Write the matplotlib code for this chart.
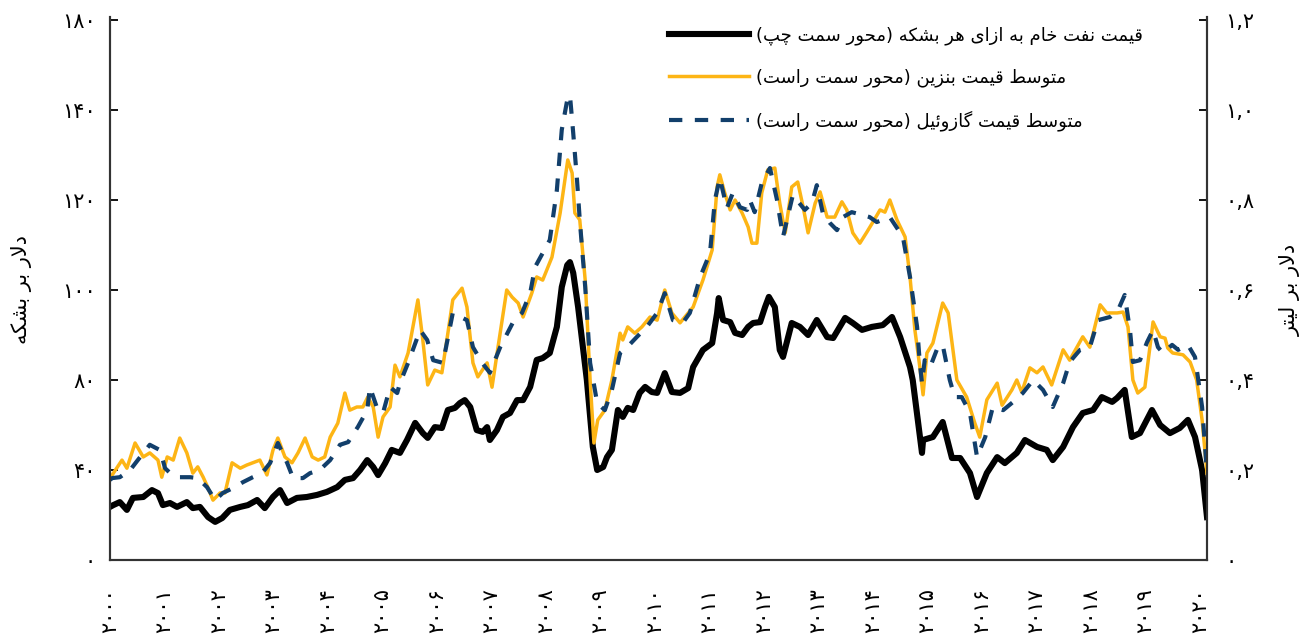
import numpy as np
import matplotlib
matplotlib.use("Agg")
import matplotlib.pyplot as plt

plt.rcParams['font.family'] = ['DejaVu Sans']

# crude arabic/persian shaping (matplotlib does no joining or bidi)
FORMS = {
    '\u0627': (0xFE8D, 0xFE8E),                  # alef
    '\u062F': (0xFEA9, 0xFEAA),                  # dal
    '\u0630': (0xFEAB, 0xFEAC),
    '\u0631': (0xFEAD, 0xFEAE),                  # reh
    '\u0632': (0xFEAF, 0xFEB0),                  # zain
    '\u0698': (0xFB8A, 0xFB8B),
    '\u0648': (0xFEED, 0xFEEE),                  # waw
    '\u0628': (0xFE8F, 0xFE90, 0xFE91, 0xFE92),  # beh
    '\u067E': (0xFB56, 0xFB57, 0xFB58, 0xFB59),  # peh
    '\u062A': (0xFE95, 0xFE96, 0xFE97, 0xFE98),  # teh
    '\u062C': (0xFE9D, 0xFE9E, 0xFE9F, 0xFEA0),
    '\u0686': (0xFB7A, 0xFB7B, 0xFB7C, 0xFB7D),  # tcheh
    '\u062D': (0xFEA1, 0xFEA2, 0xFEA3, 0xFEA4),  # hah
    '\u062E': (0xFEA5, 0xFEA6, 0xFEA7, 0xFEA8),  # khah
    '\u0633': (0xFEB1, 0xFEB2, 0xFEB3, 0xFEB4),  # seen
    '\u0634': (0xFEB5, 0xFEB6, 0xFEB7, 0xFEB8),  # sheen
    '\u0637': (0xFEC1, 0xFEC2, 0xFEC3, 0xFEC4),  # tah
    '\u0641': (0xFED1, 0xFED2, 0xFED3, 0xFED4),  # feh
    '\u0642': (0xFED5, 0xFED6, 0xFED7, 0xFED8),  # qaf
    '\u06A9': (0xFB8E, 0xFB8F, 0xFB90, 0xFB91),  # keheh
    '\u06AF': (0xFB92, 0xFB93, 0xFB94, 0xFB95),  # gaf
    '\u0644': (0xFEDD, 0xFEDE, 0xFEDF, 0xFEE0),  # lam
    '\u0645': (0xFEE1, 0xFEE2, 0xFEE3, 0xFEE4),  # meem
    '\u0646': (0xFEE5, 0xFEE6, 0xFEE7, 0xFEE8),  # noon
    '\u0647': (0xFEE9, 0xFEEA, 0xFEEB, 0xFEEC),  # heh
    '\u06CC': (0xFBFC, 0xFBFD, 0xFBFE, 0xFBFF),  # farsi yeh
    '\u0626': (0xFE89, 0xFE8A, 0xFE8B, 0xFE8C),  # yeh hamza
}


def fa(text):
    out = []
    n = len(text)
    i = 0
    while i < n:
        c = text[i]
        if c not in FORMS:
            out.append(c)
            i += 1
            continue
        prev = text[i - 1] if i > 0 else None
        prev_j = prev in FORMS and len(FORMS[prev]) == 4
        if c == '\u0644' and i + 1 < n and text[i + 1] == '\u0627':
            out.append(chr(0xFEFC if prev_j else 0xFEFB))
            i += 2
            continue
        f = FORMS[c]
        nxt = text[i + 1] if i + 1 < n else None
        next_j = len(f) == 4 and nxt in FORMS
        if prev_j and next_j:
            g = f[3]
        elif prev_j:
            g = f[1]
        elif next_j:
            g = f[2]
        else:
            g = f[0]
        out.append(chr(g))
        i += 1
    s = ''.join(out)[::-1]
    return s.translate(str.maketrans('()', ')('))


FA_DIGITS = str.maketrans('0123456789', '۰۱۲۳۴۵۶۷۸۹')

# crude oil, dollars per barrel (left axis)
oil_year = [2000.0, 2000.06, 2000.18, 2000.31, 2000.42, 2000.61, 2000.77, 2000.88, 2000.97,
            2001.10, 2001.23, 2001.41, 2001.52, 2001.65, 2001.80, 2001.93, 2002.06, 2002.20,
            2002.39, 2002.53, 2002.70, 2002.84, 2002.99, 2003.12, 2003.25, 2003.43, 2003.61,
            2003.80, 2003.98, 2004.17, 2004.31, 2004.46, 2004.59, 2004.72, 2004.83, 2004.92,
            2005.05, 2005.17, 2005.32, 2005.45, 2005.60, 2005.74, 2005.83, 2005.96, 2006.09,
            2006.20, 2006.33, 2006.42, 2006.51, 2006.61, 2006.73, 2006.84, 2006.92, 2006.97,
            2007.10, 2007.21, 2007.34, 2007.47, 2007.58, 2007.71, 2007.83, 2007.94, 2008.07,
            2008.20, 2008.29, 2008.39, 2008.44, 2008.50, 2008.59, 2008.75, 2008.86, 2008.94,
            2009.05, 2009.12, 2009.21, 2009.32, 2009.41, 2009.50, 2009.60, 2009.72, 2009.82,
            2009.94, 2010.04, 2010.18, 2010.31, 2010.46, 2010.61, 2010.70, 2010.88, 2011.05,
            2011.14, 2011.17, 2011.25, 2011.38, 2011.47, 2011.60, 2011.71, 2011.80, 2011.93,
            2012.02, 2012.09, 2012.20, 2012.29, 2012.35, 2012.51, 2012.66, 2012.81, 2012.97,
            2013.16, 2013.27, 2013.49, 2013.63, 2013.80, 2013.98, 2014.18, 2014.35, 2014.50,
            2014.68, 2014.73, 2014.90, 2014.92, 2015.10, 2015.28, 2015.45, 2015.60, 2015.78,
            2015.91, 2016.09, 2016.28, 2016.42, 2016.64, 2016.79, 2017.01, 2017.19, 2017.30,
            2017.49, 2017.67, 2017.85, 2018.04, 2018.20, 2018.39, 2018.48, 2018.62, 2018.75,
            2018.90, 2019.12, 2019.27, 2019.45, 2019.63, 2019.78, 2019.91, 2020.04, 2020.13]
oil_usd = [17.7, 18.3, 19.3, 16.7, 20.7, 21.0, 23.3, 22.3, 18.3,
           19.0, 17.7, 19.3, 17.3, 17.7, 14.3, 12.7, 14.0, 16.7,
           17.7, 18.3, 20.0, 17.3, 21.0, 23.3, 19.0, 20.7, 21.0,
           21.7, 22.7, 24.3, 26.7, 27.3, 30.0, 33.3, 31.0, 28.3,
           32.3, 36.7, 35.7, 40.0, 45.7, 42.3, 40.7, 44.3, 44.0,
           50.0, 50.7, 52.3, 53.3, 51.0, 43.3, 42.7, 44.3, 40.0,
           43.3, 47.7, 49.0, 53.3, 53.3, 57.7, 66.7, 67.3, 69.0,
           77.7, 91.0, 98.3, 99.3, 95.7, 84.3, 60.0, 37.7, 30.0,
           31.0, 34.3, 36.7, 50.0, 47.7, 50.7, 50.0, 55.7, 57.7,
           56.0, 55.7, 62.3, 56.0, 55.7, 57.3, 64.3, 70.0, 72.3,
           82.3, 87.3, 80.0, 79.3, 75.7, 75.0, 77.7, 79.0, 79.3,
           84.3, 87.7, 84.3, 70.0, 67.7, 79.0, 77.7, 75.0, 80.0,
           74.3, 74.0, 80.7, 79.0, 76.7, 77.7, 78.3, 81.0, 74.3,
           64.3, 60.0, 35.7, 40.0, 41.0, 46.0, 34.0, 34.0, 29.0,
           21.0, 29.0, 34.3, 32.3, 35.7, 40.0, 37.7, 36.7, 33.3,
           37.7, 44.3, 49.0, 50.0, 54.3, 52.7, 54.0, 56.7, 41.0,
           42.3, 50.0, 45.0, 42.3, 44.0, 46.7, 41.0, 30.0, 14.3]

# average gasoline price, dollars per litre (right axis)
gas_year = [2000.0, 2000.04, 2000.22, 2000.31, 2000.46, 2000.61, 2000.73, 2000.88, 2000.95,
            2001.05, 2001.16, 2001.28, 2001.41, 2001.52, 2001.61, 2001.71, 2001.80, 2001.89,
            2002.02, 2002.11, 2002.24, 2002.39, 2002.51, 2002.62, 2002.75, 2002.88, 2002.99,
            2003.08, 2003.21, 2003.34, 2003.45, 2003.58, 2003.71, 2003.82, 2003.94, 2004.04,
            2004.18, 2004.31, 2004.40, 2004.53, 2004.64, 2004.73, 2004.83, 2004.92, 2005.01,
            2005.14, 2005.23, 2005.32, 2005.47, 2005.65, 2005.74, 2005.83, 2005.96, 2006.09,
            2006.20, 2006.29, 2006.46, 2006.55, 2006.66, 2006.75, 2006.92, 2007.01, 2007.12,
            2007.28, 2007.38, 2007.49, 2007.58, 2007.74, 2007.83, 2007.94, 2008.11, 2008.26,
            2008.40, 2008.48, 2008.53, 2008.62, 2008.72, 2008.81, 2008.88, 2008.95, 2009.08,
            2009.21, 2009.36, 2009.41, 2009.50, 2009.63, 2009.76, 2009.91, 2010.04, 2010.18,
            2010.31, 2010.46, 2010.61, 2010.70, 2010.88, 2011.05, 2011.14, 2011.19, 2011.28,
            2011.38, 2011.47, 2011.60, 2011.71, 2011.78, 2011.87, 2011.96, 2012.07, 2012.20,
            2012.29, 2012.39, 2012.51, 2012.62, 2012.72, 2012.81, 2012.94, 2013.03, 2013.16,
            2013.30, 2013.43, 2013.52, 2013.63, 2013.76, 2013.89, 2014.00, 2014.13, 2014.22,
            2014.31, 2014.44, 2014.59, 2014.68, 2014.77, 2014.86, 2014.92, 2014.99, 2015.10,
            2015.28, 2015.38, 2015.54, 2015.72, 2015.87, 2015.96, 2016.09, 2016.28, 2016.37,
            2016.55, 2016.64, 2016.73, 2016.88, 2017.01, 2017.12, 2017.28, 2017.49, 2017.61,
            2017.85, 2017.98, 2018.17, 2018.29, 2018.48, 2018.59, 2018.68, 2018.77, 2018.86,
            2018.99, 2019.14, 2019.27, 2019.36, 2019.41, 2019.50, 2019.69, 2019.82, 2019.94,
            2020.04, 2020.13]
gas_usd = [0.182, 0.189, 0.222, 0.204, 0.260, 0.229, 0.238, 0.222, 0.184,
           0.229, 0.222, 0.271, 0.238, 0.193, 0.207, 0.184, 0.160, 0.133,
           0.149, 0.149, 0.216, 0.204, 0.211, 0.216, 0.222, 0.189, 0.244,
           0.271, 0.229, 0.216, 0.238, 0.271, 0.229, 0.222, 0.229, 0.273,
           0.304, 0.371, 0.333, 0.340, 0.340, 0.362, 0.340, 0.273, 0.318,
           0.340, 0.433, 0.407, 0.460, 0.578, 0.489, 0.389, 0.422, 0.416,
           0.504, 0.578, 0.604, 0.562, 0.438, 0.407, 0.438, 0.384, 0.473,
           0.600, 0.584, 0.571, 0.540, 0.593, 0.629, 0.622, 0.673, 0.771,
           0.889, 0.860, 0.771, 0.756, 0.622, 0.400, 0.260, 0.311, 0.333,
           0.400, 0.504, 0.489, 0.518, 0.504, 0.518, 0.540, 0.533, 0.600,
           0.549, 0.527, 0.549, 0.562, 0.622, 0.689, 0.829, 0.856, 0.816,
           0.778, 0.800, 0.771, 0.740, 0.704, 0.704, 0.816, 0.867, 0.871,
           0.793, 0.727, 0.829, 0.840, 0.784, 0.727, 0.793, 0.818, 0.762,
           0.762, 0.796, 0.778, 0.727, 0.704, 0.729, 0.751, 0.778, 0.773,
           0.800, 0.756, 0.718, 0.629, 0.511, 0.429, 0.367, 0.460, 0.482,
           0.571, 0.549, 0.400, 0.362, 0.304, 0.273, 0.356, 0.393, 0.344,
           0.378, 0.400, 0.373, 0.427, 0.416, 0.429, 0.389, 0.467, 0.444,
           0.496, 0.473, 0.567, 0.549, 0.549, 0.551, 0.518, 0.400, 0.371,
           0.384, 0.529, 0.496, 0.493, 0.471, 0.460, 0.456, 0.440, 0.400,
           0.311, 0.193]

# average diesel price, dollars per litre (right axis)
diesel_year = [2000.0, 2000.04, 2000.18, 2000.37, 2000.51, 2000.73, 2000.92, 2001.01, 2001.14,
               2001.28, 2001.47, 2001.61, 2001.78, 2001.93, 2002.07, 2002.26, 2002.44, 2002.62,
               2002.79, 2002.94, 2003.08, 2003.25, 2003.36, 2003.54, 2003.67, 2003.85, 2004.04,
               2004.22, 2004.37, 2004.55, 2004.72, 2004.77, 2004.90, 2005.01, 2005.14, 2005.27,
               2005.32, 2005.47, 2005.69, 2005.82, 2005.93, 2006.11, 2006.29, 2006.55, 2006.66,
               2006.83, 2006.97, 2007.16, 2007.39, 2007.56, 2007.71, 2007.80, 2007.94, 2008.07,
               2008.20, 2008.29, 2008.39, 2008.44, 2008.50, 2008.57, 2008.62, 2008.72, 2008.81,
               2008.94, 2009.08, 2009.21, 2009.36, 2009.49, 2009.67, 2009.85, 2010.04, 2010.18,
               2010.33, 2010.51, 2010.64, 2010.83, 2011.01, 2011.10, 2011.19, 2011.32, 2011.43,
               2011.56, 2011.69, 2011.74, 2011.83, 2011.96, 2012.11, 2012.24, 2012.35, 2012.53,
               2012.75, 2012.88, 2012.97, 2013.08, 2013.21, 2013.34, 2013.45, 2013.61, 2013.80,
               2013.94, 2014.07, 2014.31, 2014.44, 2014.55, 2014.68, 2014.81, 2014.86, 2014.90,
               2014.95, 2015.05, 2015.19, 2015.28, 2015.41, 2015.50, 2015.63, 2015.78, 2015.91,
               2016.06, 2016.20, 2016.39, 2016.57, 2016.75, 2016.94, 2017.12, 2017.30, 2017.49,
               2017.61, 2017.80, 2017.98, 2018.13, 2018.35, 2018.50, 2018.62, 2018.72, 2018.77,
               2018.90, 2019.03, 2019.14, 2019.23, 2019.32, 2019.49, 2019.60, 2019.78, 2019.91,
               2020.04, 2020.13]
diesel_usd = [0.178, 0.182, 0.184, 0.200, 0.222, 0.256, 0.244, 0.204, 0.189,
              0.184, 0.184, 0.182, 0.162, 0.133, 0.149, 0.160, 0.173, 0.184,
              0.193, 0.216, 0.260, 0.216, 0.182, 0.182, 0.193, 0.200, 0.222,
              0.256, 0.262, 0.296, 0.333, 0.384, 0.338, 0.327, 0.384, 0.371,
              0.393, 0.438, 0.511, 0.489, 0.444, 0.438, 0.549, 0.533, 0.473,
              0.438, 0.416, 0.473, 0.527, 0.549, 0.593, 0.651, 0.682, 0.711,
              0.822, 0.956, 1.022, 1.033, 0.949, 0.844, 0.756, 0.607, 0.438,
              0.349, 0.333, 0.378, 0.460, 0.473, 0.496, 0.518, 0.549, 0.593,
              0.533, 0.527, 0.549, 0.629, 0.682, 0.800, 0.849, 0.782, 0.816,
              0.784, 0.778, 0.800, 0.773, 0.838, 0.871, 0.800, 0.718, 0.811,
              0.778, 0.793, 0.833, 0.771, 0.749, 0.733, 0.762, 0.773, 0.767,
              0.762, 0.751, 0.762, 0.738, 0.718, 0.629, 0.518, 0.438, 0.393,
              0.444, 0.429, 0.473, 0.478, 0.400, 0.362, 0.362, 0.327, 0.229,
              0.273, 0.340, 0.333, 0.351, 0.371, 0.400, 0.378, 0.340, 0.393,
              0.440, 0.467, 0.473, 0.533, 0.540, 0.556, 0.589, 0.507, 0.440,
              0.444, 0.484, 0.511, 0.473, 0.460, 0.478, 0.467, 0.478, 0.451,
              0.340, 0.193]

years = list(range(2000, 2021))
left_ticks = [0, 30, 60, 90, 120, 150, 180]
left_labels = ['۰', '۴۰', '۸۰', '۱۰۰', '۱۲۰', '۱۴۰', '۱۸۰']
right_ticks = [0, 0.2, 0.4, 0.6, 0.8, 1.0, 1.2]
right_labels = ['۰', '۰,۲', '۰,۴', '۰,۶', '۰,۸', '۱,۰', '۱,۲']

lbl_oil = 'قیمت نفت خام به ازای هر بشکه (محور سمت چپ)'
lbl_gas = 'متوسط قیمت بنزین (محور سمت راست)'
lbl_diesel = 'متوسط قیمت گازوئیل (محور سمت راست)'
ylabel_left = 'دلار بر بشکه'
ylabel_right = 'دلار بر لیتر'


def main():
    fig = plt.figure(figsize=(13.12, 6.41), dpi=100)
    ax = fig.add_axes([110/1312, 1 - 560/641, 1097/1312, 543/641])
    ax2 = ax.twinx()

    oil_line, = ax.plot(oil_year, oil_usd, color='black', lw=4.4, solid_joinstyle='round')
    gas_line, = ax2.plot(gas_year, gas_usd, color='#FDB515', lw=2.5)
    diesel_line, = ax2.plot(diesel_year, diesel_usd, color='#123F6B', lw=3.0,
                            dashes=(3.2, 3.0))

    ax.set_xlim(2000, 2020.13)
    ax.set_ylim(0, 181)
    ax2.set_ylim(0, 181/150)

    ax.set_yticks(left_ticks)
    ax.set_yticklabels(left_labels, fontsize=15)
    ax2.set_yticks(right_ticks)
    ax2.set_yticklabels(right_labels, fontsize=15)
    ax.set_xticks(years)
    ax.set_xticklabels([str(y).translate(FA_DIGITS) for y in years], rotation=90, fontsize=15)

    ax.tick_params(axis='y', direction='in', length=6, width=1.3, pad=10)
    ax2.tick_params(axis='y', direction='in', length=6, width=1.3, pad=13)
    ax.tick_params(axis='x', length=0, pad=20)

    for a in (ax, ax2):
        a.spines['top'].set_visible(False)
        for s in ('left', 'right', 'bottom'):
            a.spines[s].set_linewidth(1.5)
            a.spines[s].set_color('#333333')

    fig.text(22/1312, 1 - 290/641, fa(ylabel_left), rotation=90, fontsize=15,
             ha='center', va='center')
    fig.text(1290/1312, 1 - 290/641, fa(ylabel_right), rotation=90, fontsize=15,
             ha='center', va='center')

    ax2.legend([oil_line, gas_line, diesel_line],
               [fa(lbl_oil), fa(lbl_gas), fa(lbl_diesel)],
               loc='upper right', bbox_to_anchor=((1150 - 110)/1097, 0.996),
               frameon=False, fontsize=13, handlelength=4.4, labelspacing=1.3,
               borderaxespad=0, handletextpad=0.4)

    plt.savefig('out.png', dpi=100)


if __name__ == "__main__":
    main()
